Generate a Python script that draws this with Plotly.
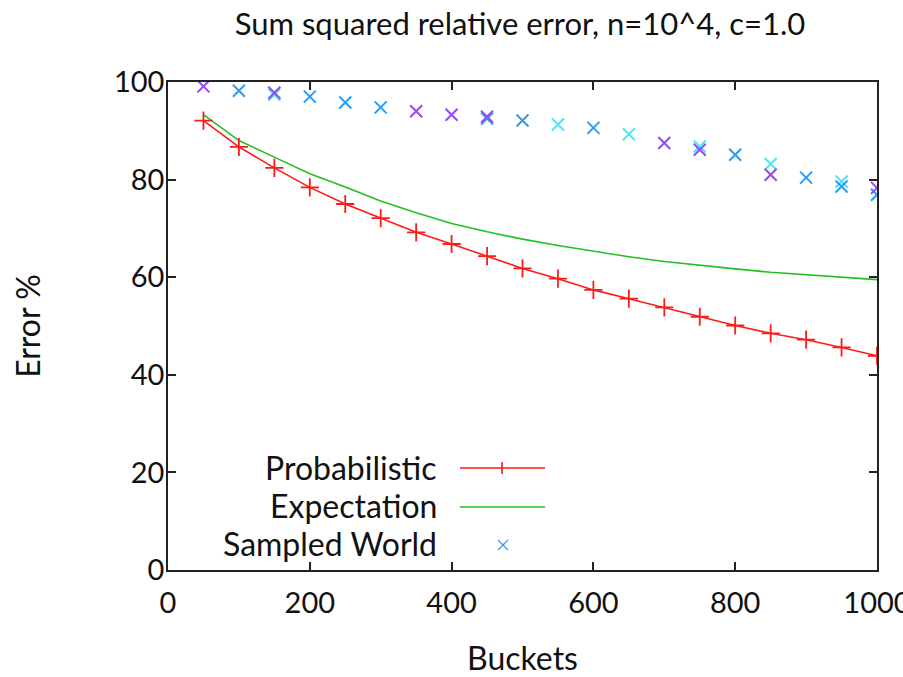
import plotly.graph_objects as go

buckets = [50, 100, 150, 200, 250, 300, 350, 400, 450, 500,
           550, 600, 650, 700, 750, 800, 850, 900, 950, 1000]

probabilistic = [92.1, 86.7, 82.4, 78.4, 75.0, 72.1, 69.2, 66.8, 64.3, 61.8,
                 59.7, 57.4, 55.6, 53.8, 51.9, 50.1, 48.5, 47.2, 45.6, 43.9]

expectation = [93.3, 88.0, 84.6, 81.2, 78.5, 75.6, 73.2, 71.0, 69.3, 67.8,
               66.5, 65.3, 64.2, 63.2, 62.4, 61.7, 61.0, 60.5, 60.0, 59.5]

# sampled worlds: first sample at every bucket count, second sample where visible
sampled_first = [99.1, 98.2, 97.8, 97.0, 95.8, 94.8, 94.0, 93.3, 92.9, 92.1,
                 91.3, 90.6, 89.3, 87.5, 86.1, 85.1, 81.0, 80.4, 78.6, 78.3]
sampled_second = [None, None, 97.4, None, None, None, None, None, 92.5, None,
                  None, None, None, None, 86.8, None, 83.2, None, 79.6, 76.9]

x_ticks = [0, 200, 400, 600, 800, 1000]
y_ticks = [0, 20, 40, 60, 80, 100]

FONT = "Lato"
TXT = "#111111"
TEXT_SIZE = 32
TICK_SIZE = 29

PURPLE, BLUE, CYAN = "#9848f8", "#2a9cf6", "#4ee6f6"
first_colors = [PURPLE, BLUE, PURPLE, BLUE, BLUE, BLUE, PURPLE, PURPLE, PURPLE, BLUE,
                CYAN, BLUE, CYAN, PURPLE, PURPLE, BLUE, PURPLE, BLUE, BLUE, PURPLE]
second_colors = [BLUE, BLUE, CYAN, BLUE, BLUE, BLUE, BLUE, BLUE, BLUE, BLUE,
                 BLUE, BLUE, BLUE, BLUE, CYAN, BLUE, CYAN, BLUE, CYAN, BLUE]

fig = go.Figure()

fig.add_trace(go.Scatter(x=buckets, y=expectation, mode="lines",
                         line=dict(color="#22c022", width=1.6),
                         showlegend=False, name="Expectation"))
fig.add_trace(go.Scatter(x=buckets, y=probabilistic, mode="lines+markers",
                         line=dict(color="#ff1a1a", width=1.6),
                         marker=dict(symbol="cross-thin-open", size=13, color="#ff1a1a",
                                     line=dict(color="#ff1a1a", width=1.8)),
                         showlegend=False, name="Probabilistic"))
for vals, cols in [(sampled_second, second_colors), (sampled_first, first_colors)]:
    fig.add_trace(go.Scatter(x=buckets, y=vals, mode="markers",
                             marker=dict(symbol="x-thin-open", size=12, color=cols,
                                         line=dict(color=cols, width=2)),
                             showlegend=False, name="Sampled World"))

# target plot area in window pixels
L, R, T, B = 168, 877, 82, 570
W, H = R - L, B - T
def px(x):
    return (x - L) / W
def py(y):
    return (B - y) / H

shapes = []
annotations = []
legend_items = [("Probabilistic", 467), ("Expectation", 505), ("Sampled World", 543)]
for label, yc in legend_items:
    annotations.append(dict(text=label, xref="paper", yref="paper",
                            x=px(439), y=py(yc), xanchor="right", yanchor="middle",
                            showarrow=False, font=dict(family=FONT, size=TEXT_SIZE, color=TXT)))
shapes.append(dict(type="line", xref="paper", yref="paper", x0=px(460), x1=px(545),
                   y0=py(468), y1=py(468), line=dict(color="#ff1a1a", width=1.6)))
shapes.append(dict(type="line", xref="paper", yref="paper", x0=px(502), x1=px(502),
                   y0=py(462), y1=py(474), line=dict(color="#ff1a1a", width=1.6)))
shapes.append(dict(type="line", xref="paper", yref="paper", x0=px(460), x1=px(545),
                   y0=py(507), y1=py(507), line=dict(color="#22c022", width=1.6)))
shapes.append(dict(type="line", xref="paper", yref="paper", x0=px(498), x1=px(508),
                   y0=py(540), y1=py(550), line=dict(color="#4a90ff", width=1.2)))
shapes.append(dict(type="line", xref="paper", yref="paper", x0=px(498), x1=px(508),
                   y0=py(550), y1=py(540), line=dict(color="#4a90ff", width=1.2)))

FW, FH = 903, 677
fig.update_layout(
    width=FW, height=FH,
    margin=dict(l=L, r=FW - R, t=T, b=FH - B, autoexpand=False),
    paper_bgcolor="white", plot_bgcolor="white",
    title=dict(text="Sum squared relative error, n=10^4, c=1.0",
               x=520 / FW, xanchor="center", y=1 - 24 / FH, yanchor="middle",
               font=dict(family=FONT, size=31, color=TXT)),
    font=dict(family=FONT, size=TEXT_SIZE, color=TXT),
    shapes=shapes, annotations=annotations,
)
axis_common = dict(showgrid=False, zeroline=False, showline=True, linecolor="#222222",
                   linewidth=1.5, mirror="ticks", ticks="inside", ticklen=8,
                   tickwidth=1.5, tickcolor="#222222", automargin=False,
                   tickfont=dict(family=FONT, size=TICK_SIZE, color=TXT))
fig.update_xaxes(range=[0, 1000], tickvals=x_ticks, ticktext=[str(v) for v in x_ticks],
                 title=dict(text="Buckets", font=dict(family=FONT, size=TEXT_SIZE, color=TXT),
                            standoff=30),
                 ticklabelstandoff=6, ticklabeloverflow="allow", **axis_common)
fig.update_yaxes(range=[0, 100], tickvals=y_ticks, ticktext=[str(v) for v in y_ticks],
                 title=dict(text="Error %", font=dict(family=FONT, size=TEXT_SIZE, color=TXT),
                            standoff=64),
                 ticklabelstandoff=-4, ticklabeloverflow="allow", **axis_common)

fig.write_html("out.html", config={"displayModeBar": False},
               post_script="document.body.style.margin='0';document.body.style.overflow='hidden';")
